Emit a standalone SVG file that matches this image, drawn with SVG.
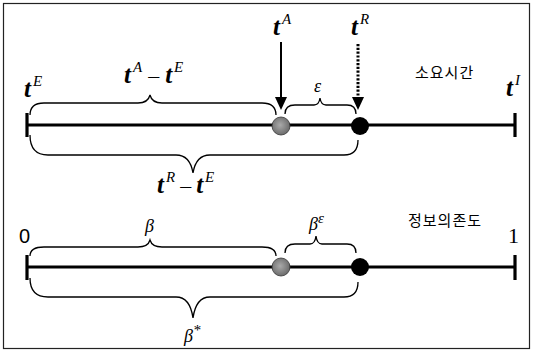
<svg xmlns="http://www.w3.org/2000/svg" width="533" height="352" viewBox="0 0 533 352">
<defs>
<style>
.frame{fill:#fff;stroke:#222;stroke-width:1.2}
.axis{stroke:#000;stroke-width:3;fill:none}
.tick{stroke:#000;stroke-width:3.2;fill:none}
.brace{stroke:#000;stroke-width:1.3;fill:none}
.t{font-family:"Liberation Serif","Times New Roman",serif;font-style:italic;font-weight:bold;font-size:25px;fill:#000}
.sup{font-family:"Liberation Serif","Times New Roman",serif;font-style:italic;font-weight:normal;font-size:15px;fill:#000}
.gr{font-family:"Liberation Serif","Times New Roman",serif;font-style:italic;font-size:18px;fill:#000}
.num{font-family:"Liberation Sans",Arial,sans-serif;font-size:20px;fill:#000}
.num1{font-family:"Liberation Serif","Times New Roman",serif;font-size:22px;fill:#000}
.ko{font-family:"Noto Sans CJK KR","Noto Sans",sans-serif;font-size:15px;fill:#000;letter-spacing:1px}
.op{font-family:"Liberation Serif","Times New Roman",serif;font-size:22px;fill:#000}
</style>
<radialGradient id="grey" cx="0.45" cy="0.45" r="0.6">
<stop offset="0" stop-color="#aaa"/>
<stop offset="1" stop-color="#666"/>
</radialGradient>
</defs>
<rect class="frame" x="3.5" y="3.5" width="526" height="345"/>

<g id="connectors">
<line class="axis" x1="28" y1="125" x2="515" y2="125"/>
<line class="axis" x1="28" y1="267" x2="515" y2="267"/>
<line x1="281" y1="42" x2="281" y2="98" stroke="#000" stroke-width="2"/>
<path d="M275,97 L287,97 L281,110 Z" fill="#000"/>
<line x1="358" y1="44" x2="358" y2="98" stroke="#000" stroke-width="3" stroke-dasharray="2.2,1.6"/>
<path d="M352,97 L364,97 L358,110 Z" fill="#000"/>
</g>

<g id="ticks">
<line class="tick" x1="27" y1="113" x2="27" y2="137"/>
<line class="tick" x1="515" y1="113" x2="515" y2="137"/>
<line class="tick" x1="27" y1="255" x2="27" y2="280"/>
<line class="tick" x1="515" y1="255" x2="515" y2="280"/>
</g>

<g id="braces">
<path class="brace" d="M30,115 Q30,103 44,103 L138,103 Q148,103 150,95 Q152,103 162,103 L262,103 Q276,103 276,115"/>
<path class="brace" d="M30,135 Q30,155 48,155 L176,155 Q190,155 193,173 Q196,155 210,155 L344,155 Q358,155 358,140"/>
<path class="brace" d="M285,114 Q285,105 295,105 L314,105 Q319,105 320,98 Q321,105 326,105 L347,105 Q356,105 356,114"/>
<path class="brace" d="M30,256 Q30,247 44,247 L138,247 Q148,247 150,240 Q152,247 162,247 L262,247 Q276,247 276,256"/>
<path class="brace" d="M30,278 Q30,297 48,297 L176,297 Q190,297 193,318 Q196,297 210,297 L344,297 Q358,297 358,282"/>
<path class="brace" d="M285,253 Q285,244 295,244 L310,244 Q315,244 316,236 Q317,244 322,244 L347,244 Q356,244 356,253"/>
</g>

<g id="node-tA-point"><circle cx="281" cy="126" r="9" fill="url(#grey)" stroke="#333" stroke-width="0.8"/></g>
<g id="node-tR-point"><circle cx="360" cy="126" r="9" fill="#000"/></g>
<g id="node-beta-point"><circle cx="281" cy="267" r="9" fill="url(#grey)" stroke="#333" stroke-width="0.8"/></g>
<g id="node-betastar-point"><circle cx="360" cy="267" r="9" fill="#000"/></g>

<g id="labels-top">
<text x="24" y="97"><tspan class="t">t</tspan><tspan class="sup" dy="-11" dx="2">E</tspan></text>
<text x="124" y="83"><tspan class="t">t</tspan><tspan class="sup" dy="-11" dx="2">A</tspan><tspan class="op" dy="11" dx="6">–</tspan><tspan class="t" dx="6">t</tspan><tspan class="sup" dy="-11" dx="2">E</tspan></text>
<text x="273" y="35"><tspan class="t">t</tspan><tspan class="sup" dy="-11" dx="2">A</tspan></text>
<text x="351" y="35"><tspan class="t">t</tspan><tspan class="sup" dy="-11" dx="2">R</tspan></text>
<text class="gr" x="314" y="92">ε</text>
<text class="ko" x="415" y="78">소요시간</text>
<text x="506" y="96"><tspan class="t">t</tspan><tspan class="sup" dy="-11" dx="2">I</tspan></text>
<text x="157" y="193"><tspan class="t">t</tspan><tspan class="sup" dy="-11" dx="2">R</tspan><tspan class="op" dy="11" dx="5">–</tspan><tspan class="t" dx="5">t</tspan><tspan class="sup" dy="-11" dx="2">E</tspan></text>
</g>

<g id="labels-bottom">
<text class="num" x="19" y="243">0</text>
<text class="gr" x="145" y="232">β</text>
<text x="309" y="230"><tspan class="gr">β</tspan><tspan class="sup" dy="-7" font-size="10">ε</tspan></text>
<text class="ko" x="408" y="226">정보의존도</text>
<text class="num1" x="508" y="243">1</text>
<text x="184" y="342"><tspan class="gr">β</tspan><tspan class="sup" dy="-7" font-size="11">*</tspan></text>
</g>
</svg>
